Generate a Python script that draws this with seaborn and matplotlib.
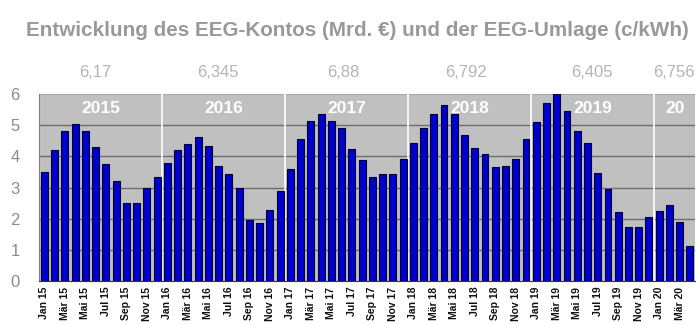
import matplotlib
matplotlib.use("Agg")
import matplotlib.pyplot as plt
import seaborn as sns
import pandas as pd

month_names = ["Jan", "Feb", "Mär", "Apr", "Mai", "Jun", "Jul", "Aug", "Sep", "Okt", "Nov", "Dez"]
years = ["15", "16", "17", "18", "19", "20"]

konto_2015 = [3.5, 4.2, 4.8, 5.05, 4.8, 4.3, 3.75, 3.2, 2.5, 2.5, 3.0, 3.33]
konto_2016 = [3.8, 4.2, 4.38, 4.62, 4.33, 3.7, 3.42, 3.0, 1.95, 1.85, 2.28, 2.9]
konto_2017 = [3.58, 4.57, 5.13, 5.35, 5.13, 4.9, 4.25, 3.88, 3.35, 3.43, 3.43, 3.93]
konto_2018 = [4.43, 4.92, 5.37, 5.63, 5.37, 4.68, 4.26, 4.07, 3.65, 3.7, 3.91, 4.55]
konto_2019 = [5.09, 5.7, 6.0, 5.45, 4.81, 4.43, 3.47, 2.95, 2.2, 1.75, 1.73, 2.04]
konto_2020 = [2.24, 2.45, 1.91, 1.11]

year_labels = ["2015", "2016", "2017", "2018", "2019", "20"]
umlage_labels = ["6,17", "6,345", "6,88", "6,792", "6,405", "6,756"]

values = konto_2015 + konto_2016 + konto_2017 + konto_2018 + konto_2019 + konto_2020
months = []
for y in years:
    for m in month_names:
        months.append(f"{m} {y}")
months = months[:len(values)]
df = pd.DataFrame({"Monat": months, "Konto": values})

sns.set_style("white")
plt.rcParams["font.family"] = ["Liberation Sans", "DejaVu Sans"]

fig = plt.figure(figsize=(7, 3.25), dpi=100)
ax = fig.add_axes([0.056, 0.135, 0.937, 0.576])
ax.set_facecolor("#c0c0c0")

sns.barplot(data=df, x="Monat", y="Konto", order=months, color="#0000cc",
            saturation=1, width=0.68, edgecolor="#000033", linewidth=0.8, ax=ax, zorder=3)

n = len(values)
ax.set_xlim(-0.5, n - 0.5)
ax.set_ylim(0, 6)
ax.set_yticks(range(0, 7))
ax.set_yticklabels([str(i) for i in range(0, 7)], fontsize=12, color="#8c8c8c")
for yv in range(1, 6):
    ax.axhline(yv, color="#6e6e6e", linewidth=1.0, zorder=1)
ax.axhline(6, color="#a0a0a0", linewidth=1.2, zorder=1)

# year separators
for i in range(12, n, 12):
    ax.axvline(i - 0.5, color="white", linewidth=1.2, zorder=2)

# x tick labels every other month
ax.set_xticks(range(0, n, 2))
ax.set_xticklabels(months[0::2], rotation=90, fontsize=7.5, fontweight="bold", color="#111111")
ax.set_xticks([i - 0.5 for i in range(n + 1)], minor=True)
ax.tick_params(axis="x", which="major", length=0, pad=4)
ax.tick_params(axis="x", which="minor", length=3, color="#333333", width=0.8)
ax.tick_params(axis="y", length=0, pad=14)
ax.set_xlabel("")
ax.set_ylabel("")

for s in ["top", "right"]:
    ax.spines[s].set_visible(False)
ax.spines["left"].set_color("#808080")
ax.spines["bottom"].set_color("#333333")

# year labels inside plot
year_x = [5.5, 17.5, 29.5, 41.5, 53.5, 61.5]
for x, lab in zip(year_x, year_labels):
    ax.text(x, 5.52, lab, ha="center", va="center", color="white",
            fontsize=12.5, fontweight="bold", zorder=4)

# EEG-Umlage values above plot
uml_x = [5.0, 16.9, 29.2, 41.1, 53.4, 61.4]
for x, lab in zip(uml_x, umlage_labels):
    ax.text(x, 6.68, lab, ha="center", va="center", color="#b4b4b4",
            fontsize=12, clip_on=False)

fig.text(0.51, 0.905, "Entwicklung des EEG-Kontos (Mrd. €) und der EEG-Umlage (c/kWh)",
         ha="center", va="center", fontsize=14.9, fontweight="bold", color="#999999")

fig.savefig("out.png", dpi=100, facecolor="white")
